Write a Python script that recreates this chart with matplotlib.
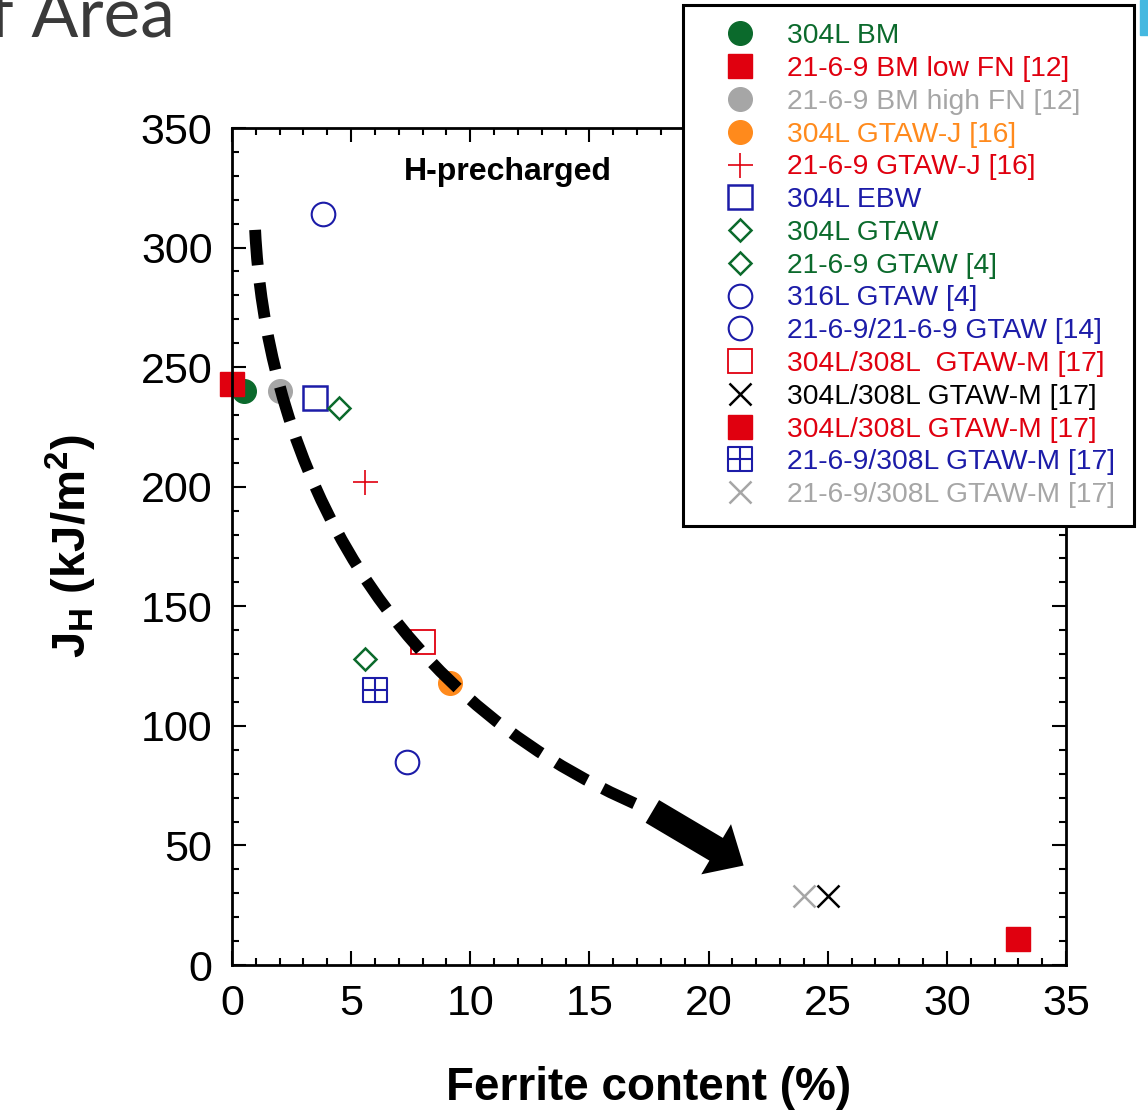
import numpy as np
import matplotlib
matplotlib.use("Agg")
import matplotlib.pyplot as plt
from matplotlib.path import Path
from matplotlib.patches import PathPatch, FancyArrowPatch, Rectangle

plt.rcParams['font.family'] = ['Liberation Sans', 'DejaVu Sans']
plt.rcParams['mathtext.fontset'] = 'custom'
plt.rcParams['mathtext.rm'] = 'Liberation Sans'
plt.rcParams['mathtext.bf'] = 'Liberation Sans:bold'

# series, in legend order
labels = ['304L BM', '21-6-9 BM low FN [12]', '21-6-9 BM high FN [12]',
          '304L GTAW-J [16]', '21-6-9 GTAW-J [16]', '304L EBW', '304L GTAW',
          '21-6-9 GTAW [4]', '316L GTAW [4]', '21-6-9/21-6-9 GTAW [14]',
          '304L/308L  GTAW-M [17]', '304L/308L GTAW-M [17]', '304L/308L GTAW-M [17]',
          '21-6-9/308L GTAW-M [17]', '21-6-9/308L GTAW-M [17]']
ferrite = [[0.5], [0.0], [2.0], [9.15], [5.6], [3.5], [4.5],
           [5.6], [3.8], [7.35], [8.0], [25.0], [33.0], [6.0], [24.0]]
jh = [[240], [243], [240], [118], [202], [237], [233],
      [128], [314], [85], [135], [29], [11], [115], [29]]

green = '#0b6a2c'
red = '#e0000f'
grey = '#a6a6a6'
orange = '#ff8a1c'
blue = '#1c1ca8'

# square with a cross inside
sqplus = Path([(-1, -1), (1, -1), (1, 1), (-1, 1), (-1, -1),
               (0, -1), (0, 1), (-1, 0), (1, 0)],
              [Path.MOVETO, Path.LINETO, Path.LINETO, Path.LINETO, Path.CLOSEPOLY,
               Path.MOVETO, Path.LINETO, Path.MOVETO, Path.LINETO])

styles = [
    dict(marker='o', color=green, ms=17),
    dict(marker='s', color=red, ms=17),
    dict(marker='o', color=grey, ms=17),
    dict(marker='o', color=orange, ms=17),
    dict(marker='+', color=red, ms=18, mew=1.2),
    dict(marker='s', color=blue, ms=17, mfc='none', mew=1.8),
    dict(marker='D', color=green, ms=11.5, mfc='none', mew=1.8),
    dict(marker='D', color=green, ms=11.5, mfc='none', mew=1.8),
    dict(marker='o', color=blue, ms=17, mfc='none', mew=1.5),
    dict(marker='o', color=blue, ms=17, mfc='none', mew=1.5),
    dict(marker='s', color=red, ms=17, mfc='none', mew=1.3),
    dict(marker='x', color='black', ms=16, mew=1.8),
    dict(marker='s', color=red, ms=17),
    dict(marker=sqplus, color=blue, ms=17, mfc='none', mew=1.5),
    dict(marker='x', color=grey, ms=16, mew=1.8),
]

# guide arrow (data coords): cubic curve then solid head
curve_pts = [(0.97, 307.4), (1.38, 223.8), (5.37, 115.0), (17.54, 64.8)]
arrow_tip = (21.57, 41.0)

fig = plt.figure(figsize=(11.48, 11.16), dpi=100)
ax = fig.add_axes([0.2021, 0.1353, 0.7265, 0.75])

for lab, xs, ys, st in zip(labels, ferrite, jh, styles):
    ax.plot(xs, ys, linestyle='none', label=lab, clip_on=False, **st)

path = Path(curve_pts, [Path.MOVETO, Path.CURVE4, Path.CURVE4, Path.CURVE4])
ax.add_patch(PathPatch(path, facecolor='none', edgecolor='black', lw=8.5,
                       linestyle=(0, (3.0, 1.5)), capstyle='butt', zorder=5))
ax.add_patch(FancyArrowPatch(curve_pts[-1], arrow_tip,
                             arrowstyle='simple, head_length=2.3, head_width=4.2, tail_width=1.9',
                             mutation_scale=10, color='black', lw=0, zorder=5))

ax.text(0.331, 0.947, 'H-precharged', transform=ax.transAxes, ha='center', va='center',
        fontsize=23, fontweight='bold')

ax.set_xlim(0, 35)
ax.set_ylim(0, 350)
ax.set_xticks(np.arange(0, 36, 5))
ax.set_yticks(np.arange(0, 351, 50))
ax.set_xticks(np.arange(0, 36, 1), minor=True)
ax.set_yticks(np.arange(0, 351, 10), minor=True)
ax.tick_params(which='both', direction='in', top=True, right=True, width=1.5)
ax.tick_params(which='major', length=10, labelsize=31)
ax.tick_params(which='minor', length=5)
ax.tick_params(axis='y', pad=14)
ax.tick_params(axis='x', pad=14)
for sp in ax.spines.values():
    sp.set_linewidth(2)

ax.set_xlabel('Ferrite content (%)', fontsize=33, fontweight='bold', labelpad=30)
ax.set_ylabel(r'$\mathbf{J_H}$ (kJ/m$^\mathbf{2}$)', fontsize=34, fontweight='bold', labelpad=30)

text_colors = [green, red, grey, orange, red, blue, green, green, blue, blue,
               red, 'black', red, blue, grey]
leg = ax.legend(loc='upper left', bbox_to_anchor=(683 / 1148, 1 - 5 / 1116),
                bbox_transform=fig.transFigure, borderaxespad=0, fontsize=20.3,
                labelcolor=text_colors, frameon=True, fancybox=False, framealpha=1,
                edgecolor='black', borderpad=0.65, handlelength=2.75, handletextpad=0.3,
                labelspacing=0.24)
leg.get_frame().set_linewidth(2.2)
leg.set_zorder(10)

# slide remnants
fig.text(175 / 1148, 1 - 37 / 1116, 'of Area', ha='right', va='baseline',
         fontsize=50, color='#3a3a3a', family=['Lato', 'DejaVu Sans'])
fig.patches.append(Rectangle((1140 / 1148, 1 - 35 / 1116), 8 / 1148, 35 / 1116,
                             transform=fig.transFigure, color='#45b8e0'))

fig.savefig('out.png', dpi=100)
